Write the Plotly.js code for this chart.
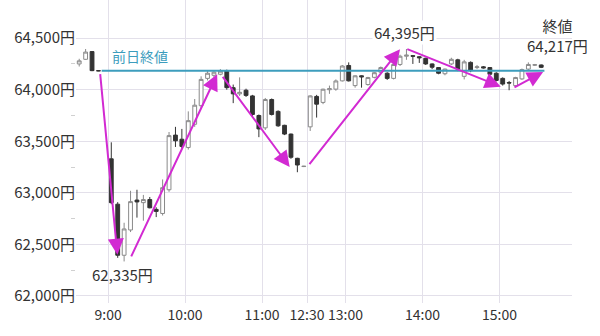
<!DOCTYPE html>
<html><head><meta charset="utf-8">
<script src="https://cdn.plot.ly/plotly-3.0.1.min.js"></script>
<style>html,body{margin:0;padding:0;background:#fff}#chart{width:600px;height:336px}</style>
</head><body><div id="chart"></div>
<script>
// 5-minute bars (bar start time)
const times = ["08:35","08:40","08:45","08:50",
"09:00","09:05","09:10","09:15","09:20","09:25","09:30","09:35","09:40","09:45","09:50","09:55",
"10:00","10:05","10:10","10:15","10:20","10:25","10:30","10:35","10:40","10:45","10:50","10:55",
"11:00","11:05","11:10","11:15","11:20","11:25","11:30",
"12:30","12:35","12:40","12:45","12:50","12:55",
"13:00","13:05","13:10","13:15","13:20","13:25","13:30","13:35","13:40","13:45","13:50","13:55",
"14:00","14:05","14:10","14:15","14:20","14:25","14:30","14:35","14:40","14:45","14:50","14:55",
"15:00","15:05","15:10","15:15","15:20","15:25","15:30"];
const open  = [64250,64295,64370,64185,
63330,62890,62395,62640,62930,62905,62935,62840,62800,63030,63560,63520,
63440,63665,63845,64110,64140,64150,64185,64020,63960,63995,63940,63750,
63630,63905,63790,63655,63570,63335,63255,
63640,63935,63877,64000,64006,64086,
64235,64040,64135,64050,64120,64170,64160,64110,64245,64325,64330,64320,
64305,64250,64215,64155,64250,64290,64130,64265,64215,64222,64215,64160,
64110,64070,64040,64105,64200,64238,64240];
const high  = [64300,64395,64375,64188,
63490,62910,62710,63020,63030,62980,62960,62860,63130,63590,63640,63620,
63790,63910,64130,64180,64185,64200,64195,64050,64120,64010,63950,63760,
63920,63915,63800,63660,63575,63340,63262,
63945,63950,64010,64040,64100,64240,
64265,64140,64140,64125,64170,64225,64170,64260,64340,64395,64335,64325,
64310,64255,64220,64205,64310,64300,64290,64275,64240,64230,64220,64170,
64120,64085,64125,64205,64265,64250,64245];
const low   = [64225,64290,64180,64180,
62890,62370,62335,62620,62760,62730,62850,62765,62780,63010,63445,63430,
63420,63640,63820,64090,64120,64140,64000,63870,63940,63930,63740,63540,
63610,63750,63640,63560,63330,63200,63250,
63600,63730,63860,63960,63990,64080,
64080,64020,64020,64040,64110,64150,64095,64100,64230,64290,64250,64260,
64240,64200,64150,64140,64240,64180,64100,64170,64200,64205,64140,64080,
64040,63995,64030,64095,64190,64230,64210];
const close = [64280,64365,64185,64183,
62905,62395,62650,62915,62912,62935,62855,62820,63050,63555,63505,63450,
63700,63850,64100,64160,64170,64180,64020,63960,63975,63945,63760,63620,
63905,63760,63650,63570,63345,63270,63258,
63940,63860,64005,64010,64085,64230,
64086,64135,64125,64118,64165,64215,64110,64245,64325,64335,64325,64310,
64250,64218,64160,64200,64295,64200,64270,64185,64222,64212,64150,64090,
64055,64065,64118,64195,64245,64242,64217];
const prevClose = 64185;
const prevCloseSpan = ["08:55","15:35"];
const yTicks = [62000,62500,63000,63500,64000,64500];
const yTickText = ["62,000円","62,500円","63,000円","63,500円","64,000円","64,500円"];
const xTickTimes = ["09:00","10:00","11:00","12:30","13:00","14:00","15:00"];
const xTickText  = ["9:00","10:00","11:00","12:30","13:00","14:00","15:00"];
const lowLabel = {time:"09:10", price:62335, text:"62,335円"};
const highLabel = {time:"13:45", price:64395, text:"64,395円"};
const closeLabel = {time:"15:30", price:64217, text:"終値<br>64,217円"};
// trend arrows: [fromSlot, fromPrice, toSlot, toPrice] (5-min slots from 9:00)
const arrows = [
  [-1.25,64165, 1.45,62400],
  [3.5,62370, 17.0,64150],
  [17.7,64140, 28.3,63250],
  [31.2,63265, 45.5,64393],
  [46.4,64400, 61.2,64030],
  [63.1,64015, 67.8,64172]
];

// session slot scale: 5-minute slots from 9:00, lunch break collapsed
function slot(t){
  const [h,m] = t.split(":").map(Number);
  let mins = h*60+m - 540;
  if (h*60+m >= 750) mins -= 55;
  return mins/5;
}
const xs = times.map(t => slot(t)+0.5);

const candle = {
  type:'candlestick', x:xs, open:open, high:high, low:low, close:close,
  increasing:{line:{color:'#8a8a8a', width:1}, fillcolor:'#ffffff'},
  decreasing:{line:{color:'#333333', width:1}, fillcolor:'#333333'},
  whiskerwidth:0, hoverinfo:'skip', showlegend:false
};
const pc = {
  type:'scatter', mode:'lines', x:prevCloseSpan.map(slot), y:[prevClose,prevClose],
  line:{color:'#3d9dbd', width:2}, hoverinfo:'skip', showlegend:false
};
const MAG = '#d22ad2';
const ann = arrows.map(a => ({
  x:a[2], y:a[3], ax:a[0], ay:a[1], xref:'x', yref:'y', axref:'x', ayref:'y',
  text:'', showarrow:true, arrowhead:2, arrowsize:1.6, arrowwidth:2, arrowcolor:MAG, standoff:0
}));
const FAM = '"Noto Sans CJK JP", "Noto Sans", sans-serif';
const tf = {family:FAM, size:15, color:'#333'};
ann.push({x:slot("09:25"), y:prevClose, yshift:15, text:'前日終値', showarrow:false,
  font:{family:FAM, size:14, color:'#3d9dbd'}});
ann.push({x:slot(lowLabel.time)+0.2, y:lowLabel.price, yshift:-13, text:lowLabel.text, showarrow:false, font:tf});
ann.push({x:slot(highLabel.time)+0.2, y:highLabel.price, yshift:16, text:highLabel.text, showarrow:false,
  font:tf, bgcolor:'#ffffff'});
ann.push({x:slot(closeLabel.time)+0.5, xshift:16, y:closeLabel.price, yshift:32, text:closeLabel.text,
  showarrow:false, font:tf, align:'center'});

const layout = {
  width:600, height:336, margin:{l:76, r:28, t:0, b:33},
  paper_bgcolor:'#fff', plot_bgcolor:'#fff',
  boxgap:0.15,
  font:tf,
  xaxis:{type:'linear', range:[-5,72.3], tickvals:xTickTimes.map(slot), ticktext:xTickText,
    showgrid:true, gridcolor:'#e3e0ea', gridwidth:1, zeroline:false, showline:false, ticks:'',
    ticklabelstandoff:2,
    tickfont:{family:FAM, size:14, color:'#333'}, rangeslider:{visible:false}, fixedrange:true},
  yaxis:{range:[61932,64870], tickvals:yTicks, ticktext:yTickText,
    showgrid:true, gridcolor:'#e3e0ea', zeroline:false, showline:false, ticks:'',
    tickfont:{family:FAM, size:15, color:'#333'},
    minor:{tickvals:[62250,62750,63250,63750,64250], ticks:'outside', ticklen:4, tickcolor:'#d0d0d0', showgrid:false}},
  annotations:ann
};
Plotly.newPlot('chart',[pc,candle],layout,{staticPlot:true, displayModeBar:false});
</script></body></html>
